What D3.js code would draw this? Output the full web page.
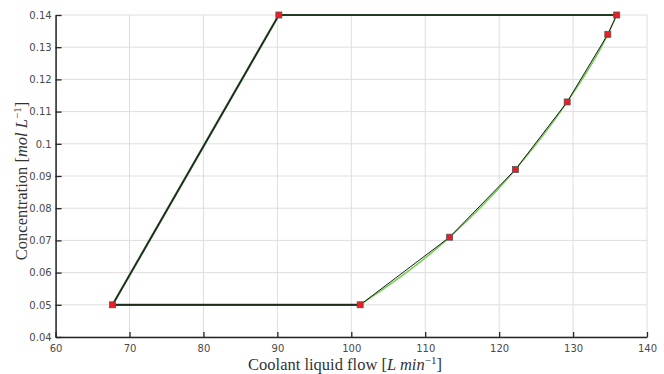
<!DOCTYPE html>
<html><head><meta charset="utf-8">
<script src="https://cdn.jsdelivr.net/npm/d3@7"></script>
<style>body{margin:0;background:#fff}</style>
</head><body>
<svg id="chart" width="664" height="374"></svg>
<script>
const xTicks = [60,70,80,90,100,110,120,130,140];
const yTicks = [0.04,0.05,0.06,0.07,0.08,0.09,0.1,0.11,0.12,0.13,0.14];
const yTickLabels = ["0.04","0.05","0.06","0.07","0.08","0.09","0.1","0.11","0.12","0.13","0.14"];
// closed operating region (flow, concentration)
const flow = [67.7, 90.2, 135.9, 134.7, 129.2, 122.2, 113.3, 101.2, 67.7];
const conc = [0.05, 0.14, 0.14, 0.134, 0.113, 0.092, 0.071, 0.05, 0.05];
// boundary edges drawn thicker in dark green (indices into the arrays above)
const edgeIdx = [7, 8, 1, 2];
const curveIdx = [7, 6, 5, 4, 3, 2];

const svg = d3.select("#chart");
const m = {l:55.6, r:17, t:15, b:37};
const W = 664, H = 374;
const x = d3.scaleLinear().domain([60,140]).range([m.l, W-m.r]);
const y = d3.scaleLinear().domain([0.04,0.14]).range([H-m.b, m.t]);

// grid
svg.append("g").selectAll("line").data(xTicks).join("line")
  .attr("x1",d=>x(d)).attr("x2",d=>x(d)).attr("y1",y(0.04)).attr("y2",y(0.14))
  .attr("stroke","#dedede").attr("stroke-width",1);
svg.append("g").selectAll("line").data(yTicks).join("line")
  .attr("y1",d=>y(d)).attr("y2",d=>y(d)).attr("x1",x(60)).attr("x2",x(140))
  .attr("stroke","#dedede").attr("stroke-width",1);

// axes
const xAxis = d3.axisBottom(x).tickValues(xTicks).tickSizeInner(-5).tickSizeOuter(0).tickPadding(8).tickFormat(d3.format("d"));
const gx = svg.append("g").attr("transform",`translate(0,${y(0.04)})`).call(xAxis);
const yAxis = d3.axisLeft(y).tickValues(yTicks).tickSizeInner(-6).tickSizeOuter(0).tickPadding(4).tickFormat((d,i)=>yTickLabels[i]);
const gy = svg.append("g").attr("transform",`translate(${x(60)},0)`).call(yAxis);
[gx,gy].forEach(g=>{
  g.select(".domain").attr("stroke","#262626").attr("stroke-width",1.5);
  g.selectAll(".tick line").attr("stroke","#262626").attr("stroke-width",1.3);
  g.selectAll(".tick text").attr("fill","#4a4a4a").style("font-family","DejaVu Sans").style("font-size","10px");
});

// smooth light green curve
const pts = flow.map((f,i)=>[f,conc[i]]);
const curvePts = curveIdx.map(i=>pts[i]).sort((a,b)=>a[0]-b[0]);
svg.append("path").datum(curvePts)
  .attr("d", d3.line().x(d=>x(d[0])).y(d=>y(d[1])).curve(d3.curveMonotoneX))
  .attr("fill","none").attr("stroke","#6fd04f").attr("stroke-width",1.5);

// dark green thick edges
svg.append("path").datum(edgeIdx.map(i=>pts[i]))
  .attr("d", d3.line().x(d=>x(d[0])).y(d=>y(d[1])))
  .attr("fill","none").attr("stroke","#2e5a2e").attr("stroke-width",2.2);

// black polyline
svg.append("path").datum(pts)
  .attr("d", d3.line().x(d=>x(d[0])).y(d=>y(d[1])))
  .attr("fill","none").attr("stroke","#1a1a1a").attr("stroke-width",1);

// markers
svg.append("g").selectAll("rect").data(pts.slice(0,8)).join("rect")
  .attr("x",d=>x(d[0])-3).attr("y",d=>y(d[1])-3).attr("width",6).attr("height",6)
  .attr("fill","#ee1c24").attr("stroke","#555").attr("stroke-width",0.8);

// labels
const xl = svg.append("text").attr("x",345).attr("y",370)
  .attr("text-anchor","middle").style("font-family","Liberation Serif").style("font-size","16.5px").attr("fill","#333");
xl.append("tspan").text("Coolant liquid flow [");
xl.append("tspan").attr("font-style","italic").text("L min");
xl.append("tspan").attr("dy",-6).style("font-size","11px").text("−1");
xl.append("tspan").attr("dy",6).text("]");

const yl = svg.append("text").attr("transform",`translate(27,181) rotate(-90)`)
  .attr("text-anchor","middle").style("font-family","Liberation Serif").style("font-size","16.5px").attr("fill","#333");
yl.append("tspan").text("Concentration [");
yl.append("tspan").attr("font-style","italic").text("mol L");
yl.append("tspan").attr("dy",-6).style("font-size","11px").text("−1");
yl.append("tspan").attr("dy",6).text("]");
</script>
</body></html>
